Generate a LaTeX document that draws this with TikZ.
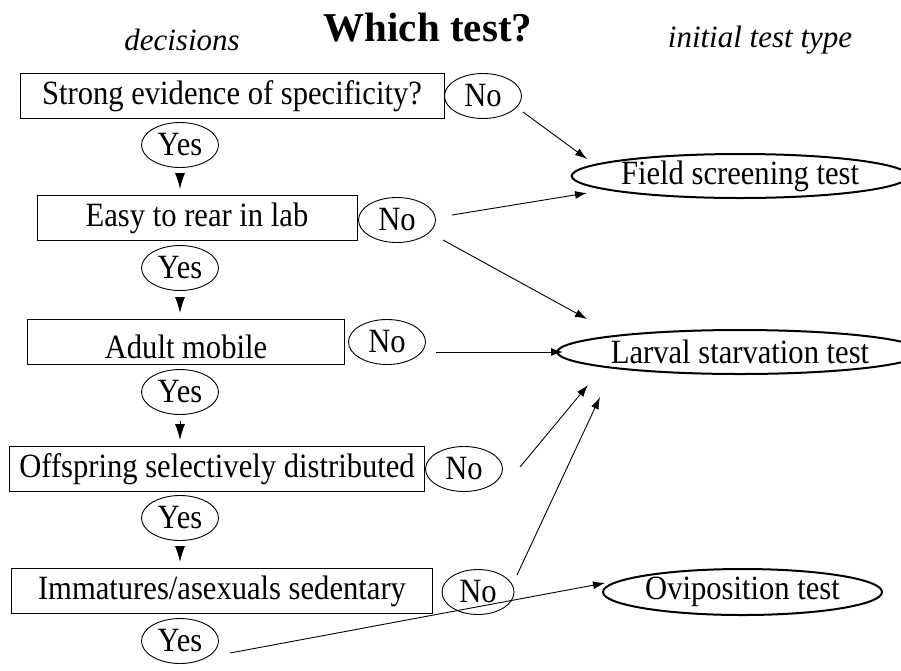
\documentclass[tikz,border=0pt]{standalone}
\usepackage{fontspec}
\setmainfont{Liberation Serif}
\newfontfamily\narrowserif{Liberation Serif}[FakeStretch=0.9]
\usetikzlibrary{shapes.geometric, arrows.meta, positioning}

\begin{document}
\begin{tikzpicture}[
		x=1pt, y=-1pt,
		every node/.style={font=\narrowserif\fontsize{34}{38}\selectfont, inner sep=0pt},
		heading/.style={font=\fontsize{31}{36}\selectfont\itshape},
		question/.style={draw, line width=0.9pt, rectangle, minimum height=45pt},
		answer/.style={draw, line width=0.9pt, ellipse, minimum width=77pt, minimum height=45pt},
		testtype/.style={draw, line width=2pt, ellipse, minimum height=44pt},
		link/.style={-{Latex[length=12pt,width=8pt]}, line width=0.9pt},
		yesdown/.style={-{Latex[length=16pt,width=10pt]}, line width=1pt, shorten <=6pt, shorten >=6pt}]
	\useasboundingbox (0,0) rectangle (901,670);
	% headings
	\node[font=\fontsize{41}{46}\selectfont\bfseries] (title) at (428,28) {Which test?};
	\node[heading] (dec) at (182,40) {decisions};
	\node[heading] (itt) at (760,40) {initial test type};
	% decisions
	\node[question, minimum width=424pt] (q1) at (232,96)  {Strong evidence of specificity?};
	\node[question, minimum width=320pt] (q2) at (197,218) {Easy to rear in lab\hspace{26pt}};
	\node[question, minimum width=317pt] (q3) at (186,342) {\raisebox{-5pt}[\height][\depth]{Adult mobile}};
	\node[question, minimum width=415pt] (q4) at (217,469) {Offspring selectively distributed};
	\node[question, minimum width=421pt] (q5) at (222,591) {Immatures/asexuals sedentary};
	% answers
	\node[answer] (no1) at (483,96)  {No};
	\node[answer] (no2) at (397,220) {No};
	\node[answer] (no3) at (387,342) {No};
	\node[answer] (no4) at (464,469) {No};
	\node[answer, minimum width=72pt] (no5) at (478,592) {No};
	\node[answer] (y1) at (180,145) {Yes};
	\node[answer] (y2) at (180,268) {Yes};
	\node[answer] (y3) at (180,392) {Yes};
	\node[answer] (y4) at (180,518) {Yes};
	\node[answer] (y5) at (180,641) {Yes};
	% initial test types
	\node[testtype, minimum width=300pt] (field)  at (740,176) {Field screening test};
	\node[testtype, minimum width=321pt] (larval) at (740,352) {Larval starvation test};
	\node[testtype, minimum width=279pt, minimum height=46pt] (ovi) at (742.5,592) {Oviposition test};
	% yes chain
	\foreach \a/\b in {y1/q2, y2/q3, y3/q4, y4/q5}
		\draw[yesdown] (\a.south) -- (\a.south |- \b.north);
	% no links
	\draw[link] ([shift={(40,16)}]no1.center)  -- ([shift={(-153,-17)}]field.center);
	\draw[link] ([shift={(55,-5)}]no2.center)  -- ([shift={(-153,17)}]field.center);
	\draw[link] ([shift={(46,20)}]no2.center)  -- ([shift={(-153,-33)}]larval.center);
	\draw[link] ([shift={(49,10)}]no3.center)  -- ([shift={(-177,0)}]larval.center);
	\draw[link] ([shift={(56,-2)}]no4.center)  -- ([shift={(-152,33)}]larval.center);
	\draw[link] ([shift={(39,-17)}]no5.center) -- ([shift={(-140,45)}]larval.center);
	\draw[link] ([shift={(50,12)}]y5.center)   -- ([shift={(-137.5,-9)}]ovi.center);
\end{tikzpicture}
\end{document}
